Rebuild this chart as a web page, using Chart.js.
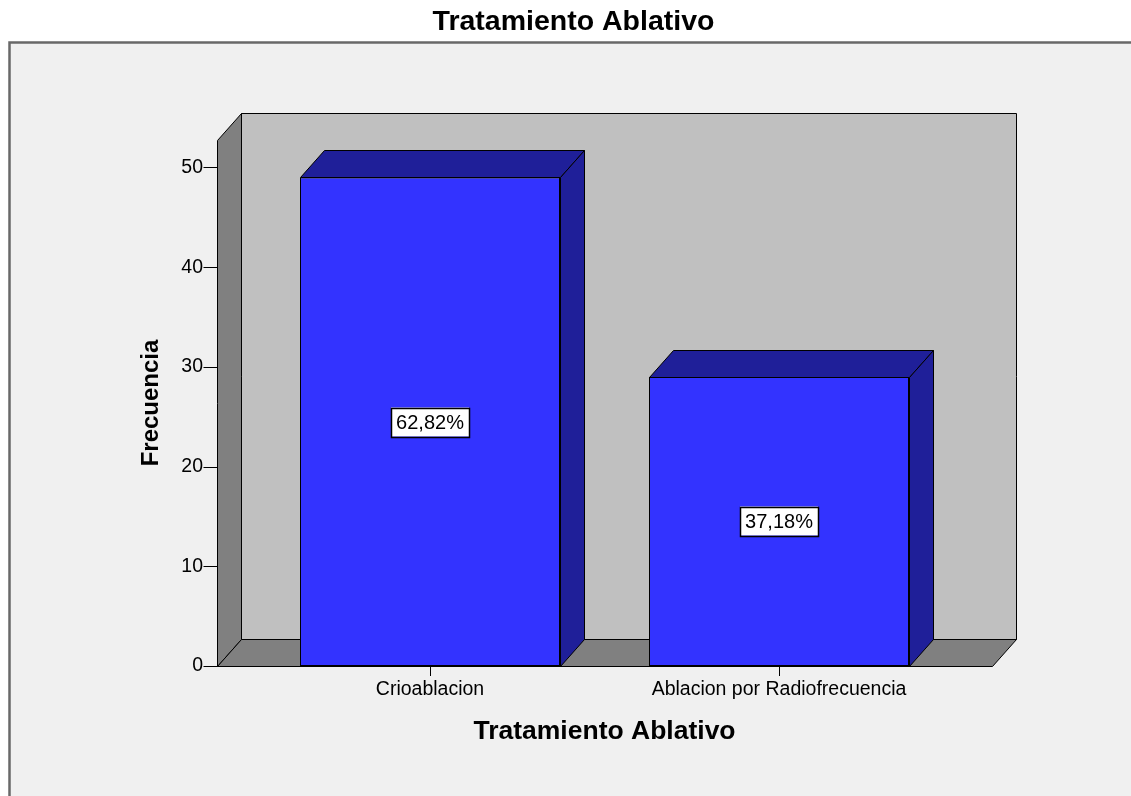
<!DOCTYPE html>
<html>
<head>
<meta charset="utf-8">
<script src="https://cdn.jsdelivr.net/npm/chart.js@4"></script>
<style>
  body { margin: 0; background: #fff; }
  canvas { display: block; }
</style>
</head>
<body>
<canvas id="chart" width="1131" height="796"></canvas>
<script>
const categories = ["Crioablacion", "Ablacion por Radiofrecuencia"];
const frequencies = [49, 29];
const yStep = 10;
const yMax = 52.75;

const total = frequencies.reduce((a, b) => a + b, 0);
const percentLabels = frequencies.map(v => (v / total * 100).toFixed(2).replace(".", ",") + "%");

const FONT = '"Liberation Sans", Arial, sans-serif';
const DX = 24, DY = -27, WALL_PAD = 38.5;
const FRONT = "#3333ff", DARK = "#1f1f99";

const poly = (ctx, pts, fill) => {
  ctx.beginPath();
  ctx.moveTo(pts[0][0], pts[0][1]);
  for (let i = 1; i < pts.length; i++) ctx.lineTo(pts[i][0], pts[i][1]);
  ctx.closePath();
  ctx.fillStyle = fill;
  ctx.fill();
  ctx.strokeStyle = "#000";
  ctx.lineWidth = 1;
  ctx.stroke();
};

const box3d = {
  id: "box3d",
  beforeDraw(chart) {
    const ctx = chart.ctx;
    ctx.save();
    ctx.fillStyle = "#f0f0f0";
    ctx.fillRect(10, 43, chart.width - 10, chart.height - 43);
    ctx.strokeStyle = "#686868";
    ctx.lineWidth = 2.5;
    ctx.beginPath();
    ctx.moveTo(9.5, chart.height);
    ctx.lineTo(9.5, 42.5);
    ctx.lineTo(chart.width, 42.5);
    ctx.stroke();
    ctx.restore();
  },
  beforeDatasetsDraw(chart) {
    const {ctx, chartArea: a, scales: {y}} = chart;
    const L = Math.round(a.left - WALL_PAD) + 0.5;
    const R = Math.round(a.right + WALL_PAD) + 0.5;
    const B = Math.round(y.getPixelForValue(0)) + 0.5;
    const T = Math.round(a.top) + 0.5;
    ctx.save();
    // back wall
    poly(ctx, [[L + DX, T + DY], [R + DX, T + DY], [R + DX, B + DY], [L + DX, B + DY]], "#c0c0c0");
    // left wall
    poly(ctx, [[L, B], [L, T], [L + DX, T + DY], [L + DX, B + DY]], "#808080");
    // floor
    poly(ctx, [[L, B], [R, B], [R + DX, B + DY], [L + DX, B + DY]], "#808080");
    // y tick marks on the front edge
    ctx.strokeStyle = "#000";
    ctx.lineWidth = 1;
    y.ticks.forEach(t => {
      const py = Math.round(y.getPixelForValue(t.value)) + 0.5;
      ctx.beginPath();
      ctx.moveTo(L - 14, py);
      ctx.lineTo(L, py);
      ctx.stroke();
    });
    ctx.restore();
  },
  afterDatasetsDraw(chart) {
    const ctx = chart.ctx;
    const meta = chart.getDatasetMeta(0);
    ctx.save();
    meta.data.forEach((bar, i) => {
      const {x, y, base, width} = bar.getProps(["x", "y", "base", "width"], true);
      const x0 = Math.round(x - width / 2) + 0.5, x1 = Math.round(x + width / 2) + 0.5;
      const yt = Math.round(y) + 0.5, yb = Math.round(base) + 0.5;
      poly(ctx, [[x0, yt], [x1, yt], [x1 + DX, yt + DY], [x0 + DX, yt + DY]], DARK);
      poly(ctx, [[x1, yt], [x1 + DX, yt + DY], [x1 + DX, yb + DY], [x1, yb]], DARK);

      // percentage label
      ctx.font = "20px " + FONT;
      const tw = ctx.measureText(percentLabels[i]).width;
      const bw = Math.round(tw + 10), bh = 29;
      const cx = Math.round(x), cy = Math.round((y + base) / 2);
      ctx.fillStyle = "#fff";
      ctx.fillRect(cx - bw / 2, cy - bh / 2, bw, bh);
      ctx.strokeStyle = "#000";
      ctx.lineWidth = 1.5;
      ctx.strokeRect(Math.round(cx - bw / 2) + 0.5, Math.round(cy - bh / 2) + 0.5, bw, bh);
      ctx.fillStyle = "#000";
      ctx.textAlign = "center";
      ctx.textBaseline = "middle";
      ctx.fillText(percentLabels[i], cx, cy + 1);
    });
    ctx.restore();
  }
};

new Chart(document.getElementById("chart"), {
  type: "bar",
  data: {
    labels: categories,
    datasets: [{
      data: frequencies,
      backgroundColor: FRONT,
      borderColor: "#000",
      borderWidth: 1,
      borderSkipped: false,
      categoryPercentage: 1,
      barPercentage: 0.745
    }]
  },
  options: {
    responsive: false,
    animation: false,
    devicePixelRatio: 1,
    layout: { padding: { left: 16, right: 0, top: 0, bottom: 0 } },
    plugins: {
      legend: { display: false },
      tooltip: { enabled: false },
      title: {
        display: true,
        text: "Tratamiento Ablativo",
        color: "#000",
        font: { family: FONT, size: 28.5, weight: "bold" },
        padding: { top: 5, bottom: 100.8 }
      }
    },
    scales: {
      x: {
        type: "category",
        offset: true,
        grid: { display: true, drawOnChartArea: false, drawTicks: true, tickLength: 10, offset: false, color: "#000", tickColor: "#000" },
        border: { display: false },
        ticks: { color: "#000", font: { family: FONT, size: 19.5 }, padding: 2, maxRotation: 0, autoSkip: false },
        title: {
          display: true,
          text: "Tratamiento Ablativo",
          color: "#000",
          font: { family: FONT, size: 26.5, weight: "bold" },
          padding: { top: 0, bottom: 48 }
        },
        afterFit: (s) => { s.height = 130; }
      },
      y: {
        position: "left",
        min: 0,
        max: yMax,
        grid: { display: false },
        border: { display: false },
        ticks: { stepSize: yStep, includeBounds: false, color: "#000", font: { family: FONT, size: 19.5 }, padding: 44.5 },
        title: {
          display: true,
          text: "Frecuencia",
          color: "#000",
          font: { family: FONT, size: 24, weight: "bold" },
          padding: { top: 121, bottom: 0 }
        },
        afterFit: (s) => { s.width = 239.5; }
      },
      yRight: {
        position: "right",
        display: true,
        grid: { display: false },
        border: { display: false },
        ticks: { display: false },
        afterFit: (s) => { s.width = 177.5; }
      }
    }
  },
  plugins: [box3d]
});
</script>
</body>
</html>
